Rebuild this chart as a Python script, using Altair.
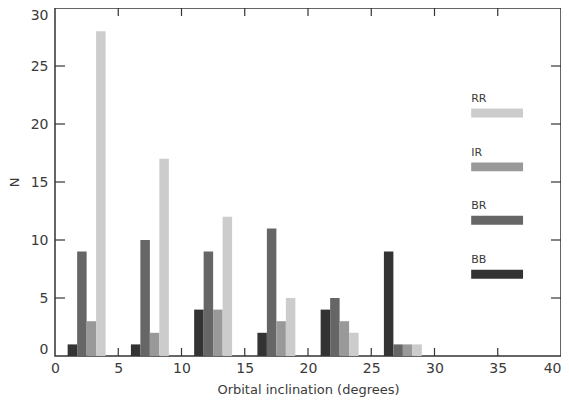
import altair as alt
import pandas as pd

# ---- data ----
bin_starts = [0, 5, 10, 15, 20, 25]
groups = ["BB", "BR", "IR", "RR"]
BB = [1, 1, 4, 2, 4, 9]
BR = [9, 10, 9, 11, 5, 1]
IR = [3, 2, 4, 3, 3, 1]
RR = [28, 17, 12, 5, 2, 1]
colors = {"BB": "#333333", "BR": "#666666", "IR": "#999999", "RR": "#cccccc"}

x_ticks = [0, 5, 10, 15, 20, 25, 30, 35, 40]
y_ticks = [0, 5, 10, 15, 20, 25, 30]

legend_labels = ["RR", "IR", "BR", "BB"]
legend_centers = [20.95, 16.3, 11.7, 7.05]

# ---- build table ----
series = {"BB": BB, "BR": BR, "IR": IR, "RR": RR}
bar_w = 0.75
rows = []
for gi, g in enumerate(groups):
    for b, v in zip(bin_starts, series[g]):
        x0 = b + 1 + gi * bar_w
        rows.append({"group": g, "x0": x0, "x1": x0 + bar_w, "n": v})
bars_df = pd.DataFrame(rows)

W, H = 506, 348
xscale = alt.Scale(domain=[0, 40], nice=False, zero=False)
yscale = alt.Scale(domain=[0, 30], nice=False, zero=False)
color_scale = alt.Scale(domain=groups, range=[colors[g] for g in groups])

font = "DejaVu Sans"
tc = "#3a3a3a"

bars = alt.Chart(bars_df).mark_rect(strokeWidth=0).encode(
    x=alt.X("x0:Q", scale=xscale,
            axis=alt.Axis(values=x_ticks, ticks=False, domain=False, grid=False,
                          title="Orbital inclination (degrees)", labelFontSize=14,
                          titleFontSize=13, labelPadding=5, titlePadding=8,
                          labelFont=font, titleFont=font, labelColor=tc,
                          titleColor=tc, titleFontWeight="normal", labelFlush=False,
                          labelAlign=alt.ExprRef(expr="datum.value == 40 ? 'right' : 'center'"))),
    x2="x1:Q",
    y=alt.Y("n:Q", scale=yscale,
            axis=alt.Axis(values=y_ticks, ticks=False, domain=False, grid=False,
                          title="N", labelFontSize=14, titleFontSize=13,
                          labelPadding=7, titlePadding=9, labelFont=font,
                          titleFont=font, labelColor=tc, titleColor=tc,
                          titleFontWeight="normal", labelFlush=True)),
    y2=alt.datum(0),
    color=alt.Color("group:N", scale=color_scale, legend=None),
)

leg_df = pd.DataFrame({
    "label": legend_labels,
    "yc": legend_centers,
})
leg_df["y0"] = leg_df["yc"] - 0.38
leg_df["y1"] = leg_df["yc"] + 0.38
leg_df["yt"] = leg_df["yc"] + 0.95
leg_df["xa"] = 32.9
leg_df["xb"] = 37.0

leg_rect = alt.Chart(leg_df).mark_rect().encode(
    x=alt.X("xa:Q", scale=xscale), x2="xb:Q",
    y=alt.Y("y0:Q", scale=yscale), y2="y1:Q",
    color=alt.Color("label:N", scale=color_scale, legend=None),
)
leg_text = alt.Chart(leg_df).mark_text(
    align="left", baseline="alphabetic", fontSize=11, font=font, color=tc
).encode(
    x=alt.X("xa:Q", scale=xscale),
    y=alt.Y("yt:Q", scale=yscale),
    text="label:N",
)

xt_df = pd.DataFrame({"t": x_ticks[1:-1]})
yt_df = pd.DataFrame({"t": y_ticks[1:-1]})
tick_color = "#333333"
xt_bottom = alt.Chart(xt_df).mark_rule(color=tick_color, strokeWidth=1.2).encode(
    x=alt.X("t:Q", scale=xscale), y=alt.value(H), y2=alt.value(H - 8))
xt_top = alt.Chart(xt_df).mark_rule(color=tick_color, strokeWidth=1.2).encode(
    x=alt.X("t:Q", scale=xscale), y=alt.value(0), y2=alt.value(8))
yt_left = alt.Chart(yt_df).mark_rule(color=tick_color, strokeWidth=1.2).encode(
    y=alt.Y("t:Q", scale=yscale), x=alt.value(0), x2=alt.value(10))
yt_right = alt.Chart(yt_df).mark_rule(color=tick_color, strokeWidth=1.2).encode(
    y=alt.Y("t:Q", scale=yscale), x=alt.value(W), x2=alt.value(W - 10))

chart = alt.layer(bars, leg_rect, leg_text, xt_bottom, xt_top, yt_left, yt_right).properties(
    width=W, height=H,
    autosize=alt.AutoSizeParams(type="none"),
    padding={"left": 47, "top": 0, "right": 0, "bottom": 46},
    background="white",
).configure_view(stroke="#333333", strokeWidth=1.5)

chart.save("out.html", embed_options={"renderer": "svg", "actions": False})
